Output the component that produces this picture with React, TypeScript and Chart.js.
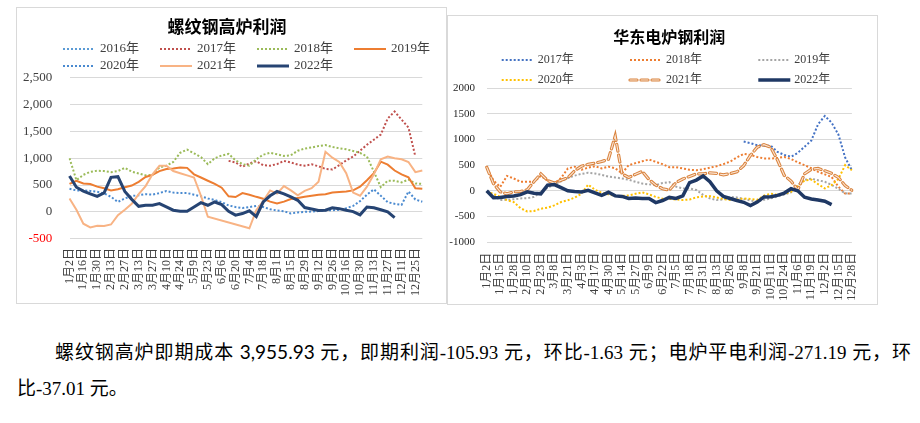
import React, { useEffect, useRef } from 'react';
import { Chart, registerables } from 'chart.js';

Chart.register(...registerables);

// ---------- Left chart: 螺纹钢高炉利润 ----------
const leftTicks = ['1月2日', '1月16日', '1月30日', '2月13日', '2月27日', '3月13日', '3月27日', '4月10日', '4月24日', '5月9日', '5月23日', '6月6日', '6月20日', '7月4日', '7月18日', '8月1日', '8月15日', '8月29日', '9月12日', '9月26日', '10月16日', '10月30日', '11月13日', '11月27日', '12月11日', '12月25日'];
const leftYTicks = [-500, 0, 500, 1000, 1500, 2000, 2500];

const L2016: (number | null)[] = [];
const L2017: (number | null)[] = [null, null, null, null, null, null, null, null, null, null, null, null, null, null, null, null, null, null, null, null, null, null, null, 950, 920, 840, 900, 945, 870, 860, 889, 950, 920, 880, 860, 885, 850, 800, 790, 870, 960, 1030, 1140, 1250, 1345, 1440, 1740, 1870, 1720, 1570, 1030, null];
const L2018: (number | null)[] = [1000, 590, 690, 745, 766, 760, 740, 760, 820, 750, 715, 680, 690, 830, 860, 930, 1100, 1160, 1090, 1020, 890, 1000, 1050, 1080, 960, 890, 860, 980, 1065, 1100, 1073, 1042, 1054, 1140, 1180, 1200, 1226, 1245, 1210, 1185, 1165, 1134, 1100, 1030, 750, 460, 580, 580, 550, 600, 530, 520];
const L2019: (number | null)[] = [520, 580, 530, 520, 470, 440, 400, 420, 460, 490, 560, 650, 690, 760, 800, 810, 828, 820, 700, 640, 580, 520, 450, 290, 276, 350, 320, 280, 245, 190, 155, 190, 240, 260, 280, 300, 320, 330, 360, 370, 380, 400, 470, 590, 720, 935, 880, 770, 700, 645, 440, 430];
const L2020: (number | null)[] = [430, 400, 400, 390, 375, 345, 280, 185, 250, 295, 310, 330, 320, 350, 390, 360, 350, 350, 320, 290, 250, 220, 180, 120, 90, 70, 90, 110, 90, 50, 25, 10, -30, -10, 0, 5, 15, 30, 30, 40, 70, 110, 200, 320, 420, 300, 180, 150, 130, 380, 230, 190];
const L2021: (number | null)[] = [250, 40, -220, -290, -260, -265, -235, -60, 40, 150, 330, 480, 700, 858, 858, 760, 720, 680, 640, 300, -90, null, null, null, null, null, -306, 30, 200, 400, 340, 480, 400, 310, 390, 440, 560, 1120, 1010, 930, 720, 360, 300, 470, 700, 980, 1030, 1000, 980, 930, 740, 770];
const L2022: (number | null)[] = [670, 460, 386, 337, 288, 355, 644, 656, 380, 233, 104, 123, 123, 153, 92, 31, 12, 12, 92, 172, 123, 184, 135, 12, -61, -31, 20, -90, 184, 300, 380, 337, 280, 215, 80, 55, 25, 30, 75, 60, 31, 5, -55, 90, 75, 40, 0, -106, null, null, null, null];

// ---------- Right chart: 华东电炉钢利润 ----------
const rightTicks = ['1月2日', '1月15日', '1月28日', '2月10日', '2月23日', '3月8日', '3月21日', '4月3日', '4月17日', '4月30日', '5月14日', '5月27日', '6月9日', '6月22日', '7月5日', '7月18日', '7月31日', '8月13日', '8月26日', '9月8日', '9月21日', '10月11日', '10月24日', '11月6日', '11月19日', '12月2日', '12月15日', '12月28日'];
const rightYTicks = [-1000, -500, 0, 500, 1000, 1500, 2000];

const R2017: (number | null)[] = [null, null, null, null, null, null, null, null, null, null, null, null, null, null, null, null, null, null, null, null, null, null, null, null, null, null, null, null, null, null, null, null, null, null, null, null, null, null, 960, 930, 890, 880, 880, 759, 700, 665, 740, 860, 980, 1300, 1460, 1330, 1100, 650, 400];
const R2018: (number | null)[] = [450, 200, 75, 290, 240, 175, 175, 180, 290, 200, 143, 250, 435, 470, 410, 450, 480, 435, 470, 440, 340, 500, 540, 575, 610, 565, 520, 460, 460, 435, 410, 400, 420, 450, 480, 520, 570, 650, 720, 700, 660, 630, 630, 640, 660, 620, 555, 500, 440, 370, 320, 270, 80, -55, -50];
const R2019: (number | null)[] = [-19, -90, -180, -175, -165, -149, -145, -120, -25, 60, 120, 185, 250, 295, 330, 350, 337, 310, 275, 260, 240, 215, 175, 140, 125, 110, 150, 170, 80, 45, 45, 15, -80, -149, -180, -170, -120, -130, -160, -190, -210, -175, -150, -110, -75, -30, 110, 215, 235, 205, 175, 115, 40, -50, -55];
const R2020: (number | null)[] = [-19, -60, -117, -185, -220, -340, -405, -395, -350, -330, -285, -220, -185, -135, -60, 120, 20, -40, -70, -100, -100, -90, -60, -30, -70, -120, -155, -160, -170, -180, -170, -130, -110, -105, -130, -160, -180, -170, -150, -160, -175, -95, -55, -80, -55, -20, 90, 200, 220, 130, 45, 110, 230, 500, 400];
const R2021: (number | null)[] = [460, 140, -20, -60, -20, -15, 20, 180, 330, 200, 150, 205, 255, 390, 480, 515, 540, 570, 615, 1070, 330, 260, 320, 380, 220, 110, 40, 13, 160, 230, 280, 330, 330, 350, 340, 310, 335, 370, 490, 690, 850, 900, 850, 600, 300, 190, 20, 330, 420, 435, 390, 340, 260, 100, 10];
const R2022: (number | null)[] = [0, -136, -130, -110, -100, -75, -20, -50, -60, 110, 120, 60, 0, -15, -25, 10, -40, -90, -30, -100, -110, -150, -140, -150, -150, -230, -190, -130, -150, -100, 160, 208, 290, 175, 0, -110, -150, -190, -225, -290, -220, -120, -117, -90, -45, 40, 0, -125, -160, -180, -205, -271, null, null, null];

// categories: one tick label every second category
const leftCategories = leftTicks.flatMap((t) => [t, '']);
const rightCategories = rightTicks.flatMap((t, i) => (i === rightTicks.length - 1 ? [t] : [t, '']));

const SERIF = '"Liberation Serif", "Noto Sans CJK SC", serif';
const DOT = [2, 2];

const gridLegend = {
  id: 'gridLegend',
  afterDraw(chart: any, _args: any, opts: any) {
    const ctx = chart.ctx as CanvasRenderingContext2D;
    ctx.save();
    for (const ds of chart.data.datasets as any[]) {
      if (ds.slot === undefined) continue;
      const col = ds.slot % opts.cols;
      const row = Math.floor(ds.slot / opts.cols);
      const x = opts.x + col * opts.colW;
      const y = opts.y + row * opts.rowH;
      ctx.beginPath();
      ctx.setLineDash(ds.borderDash || []);
      ctx.lineCap = ds.borderCapStyle || 'butt';
      ctx.strokeStyle = ds.borderColor;
      ctx.lineWidth = ds.borderWidth;
      ctx.moveTo(x, y);
      ctx.lineTo(x + opts.len, y);
      ctx.stroke();
      if (!ds.noText) {
        ctx.setLineDash([]);
        ctx.fillStyle = opts.textColor;
        ctx.font = opts.fontStr;
        ctx.textAlign = 'left';
        ctx.textBaseline = 'middle';
        ctx.fillText(ds.label, x + opts.len + opts.gap, y);
      }
    }
    ctx.restore();
  },
};

function line(label: string, data: (number | null)[], color: string, width: number, dash: number[], slot: number | undefined, order: number, extra: any = {}) {
  return {
    label,
    data,
    borderColor: color,
    backgroundColor: color,
    borderWidth: width,
    borderDash: dash,
    pointRadius: 0,
    pointHoverRadius: 0,
    tension: 0,
    fill: false,
    spanGaps: true,
    slot,
    order,
    ...extra,
  };
}

function LeftChart() {
  const ref = useRef<HTMLCanvasElement>(null);
  useEffect(() => {
    if (!ref.current) return;
    const chart = new Chart(ref.current, {
      type: 'line',
      data: {
        labels: leftCategories,
        datasets: [
          line('2016年', L2016, '#5B9BD5', 2, DOT, 0, 6),
          line('2017年', L2017, '#C0504D', 2, DOT, 1, 5),
          line('2018年', L2018, '#9BBB59', 2, DOT, 2, 4),
          line('2019年', L2019, '#ED7D31', 2, [], 3, 3),
          line('2020年', L2020, '#4A8AD0', 2, DOT, 4, 2),
          line('2021年', L2021, '#F8B384', 2, [], 5, 1),
          line('2022年', L2022, '#264473', 3, [], 6, 0),
        ] as any,
      },
      options: {
        responsive: false,
        maintainAspectRatio: false,
        animation: false,
        devicePixelRatio: 1,
        layout: { padding: { left: 3.4, right: 12.4, top: 0, bottom: 7 } },
        plugins: {
          legend: { display: false },
          tooltip: { enabled: false },
          title: {
            display: true,
            text: '螺纹钢高炉利润',
            color: '#000000',
            font: { family: '"Noto Sans CJK SC", sans-serif', size: 17, weight: 'bold' },
            padding: { top: 8, bottom: 41.3 },
          },
          gridLegend: { x: 46, y: 41, cols: 4, colW: 97, rowH: 17, len: 32, gap: 5, fontStr: '13px ' + SERIF, textColor: '#404040' },
        } as any,
        scales: {
          x: {
            type: 'category',
            offset: false,
            afterFit: (s: any) => { s.height = 57.3; },
            grid: { display: false, drawTicks: false },
            border: { display: false },
            ticks: { autoSkip: false, maxRotation: 90, minRotation: 90, padding: 9.3, color: '#404040', font: { family: SERIF, size: 12 } },
          },
          y: {
            min: leftYTicks[0],
            max: leftYTicks[leftYTicks.length - 1],
            afterBuildTicks: (s: any) => { s.ticks = leftYTicks.map((v) => ({ value: v })); },
            afterFit: (s: any) => { s.width = 49.1; },
            grid: { color: '#D9D9D9', lineWidth: 1, drawTicks: false },
            border: { display: false },
            ticks: {
              padding: 17.2,
              color: (c: any) => (c.tick && c.tick.value < 0 ? '#FF0000' : '#404040'),
              font: { family: SERIF, size: 13 },
              callback: (v: any) => Number(v).toLocaleString('en-US'),
            },
          },
        } as any,
      },
      plugins: [gridLegend],
    });
    return () => chart.destroy();
  }, []);
  return <canvas ref={ref} width={429} height={295} style={{ display: 'block' }} />;
}

function RightChart() {
  const ref = useRef<HTMLCanvasElement>(null);
  useEffect(() => {
    if (!ref.current) return;
    const chart = new Chart(ref.current, {
      type: 'line',
      data: {
        labels: rightCategories,
        datasets: [
          line('2017年', R2017, '#4472C4', 2, DOT, 0, 6),
          line('2018年', R2018, '#ED7D31', 2, DOT, 1, 5),
          line('2019年', R2019, '#A5A5A5', 2, DOT, 2, 4),
          line('2020年', R2020, '#FFC000', 2, DOT, 3, 3),
          line('2021年', R2021, '#D9843F', 3.2, [7, 4], 4, 2, { borderCapStyle: 'round' }),
          line('2021年', R2021, '#FCE6D6', 1.1, [7, 4], 4, 1, { borderCapStyle: 'round', noText: true }),
          line('2022年', R2022, '#1F3864', 3.5, [], 5, 0),
        ] as any,
      },
      options: {
        responsive: false,
        maintainAspectRatio: false,
        animation: false,
        devicePixelRatio: 1,
        layout: { padding: { left: 0, right: 19.3, top: 0, bottom: 3.3 } },
        plugins: {
          legend: { display: false },
          tooltip: { enabled: false },
          title: {
            display: true,
            fullSize: false,
            text: '华东电炉钢利润',
            color: '#000000',
            font: { family: '"Noto Sans CJK SC", sans-serif', size: 16, weight: 'bold' },
            padding: { top: 11.4, bottom: 41.7 },
          },
          gridLegend: { x: 53.7, y: 44, cols: 3, colW: 128.3, rowH: 20, len: 32, gap: 4, fontStr: '12px ' + SERIF, textColor: '#404040' },
        } as any,
        scales: {
          x: {
            type: 'category',
            offset: false,
            afterFit: (s: any) => { s.height = 58.7; },
            grid: { display: false, drawTicks: false },
            border: { display: false },
            ticks: { autoSkip: false, maxRotation: 90, minRotation: 90, padding: 10.7, color: '#404040', font: { family: SERIF, size: 12 } },
          },
          y: {
            min: rightYTicks[0],
            max: rightYTicks[rightYTicks.length - 1],
            afterBuildTicks: (s: any) => { s.ticks = rightYTicks.map((v) => ({ value: v })); },
            afterFit: (s: any) => { s.width = 38.7; },
            grid: { color: '#D9D9D9', lineWidth: 1, drawTicks: false },
            border: { display: false },
            ticks: {
              padding: 11.7,
              color: '#262626',
              font: { family: SERIF, size: 11 },
              callback: (v: any) => String(v),
            },
          },
        } as any,
      },
      plugins: [gridLegend],
    });
    return () => chart.destroy();
  }, []);
  return <canvas ref={ref} width={429} height={288} style={{ display: 'block' }} />;
}

export default function App() {
  const box: React.CSSProperties = { position: 'absolute', border: '1px solid #D9D9D9', background: '#FFFFFF' };
  return (
    <div>
      <div style={{ ...box, left: 16, top: 7, width: 429, height: 295 }}>
        <LeftChart />
      </div>
      <div style={{ ...box, left: 447, top: 15, width: 429, height: 288 }}>
        <RightChart />
      </div>
      <div
        style={{
          position: 'absolute',
          left: 17,
          top: 334,
          width: 894,
          fontSize: 19,
          lineHeight: '36px',
          fontFamily: SERIF,
          color: '#000000',
        }}
      >
        <div style={{ textIndent: 38, textAlign: 'justify', textAlignLast: 'justify' as any }}>
          螺纹钢高炉即期成本 <span style={{ fontFamily: 'Lato, "Liberation Sans", sans-serif' }}>3,955.93</span> 元，即期利润-105.93 元，环比-1.63 元；电炉平电利润-271.19 元，环
        </div>
        <div>比-37.01 元。</div>
      </div>
    </div>
  );
}
